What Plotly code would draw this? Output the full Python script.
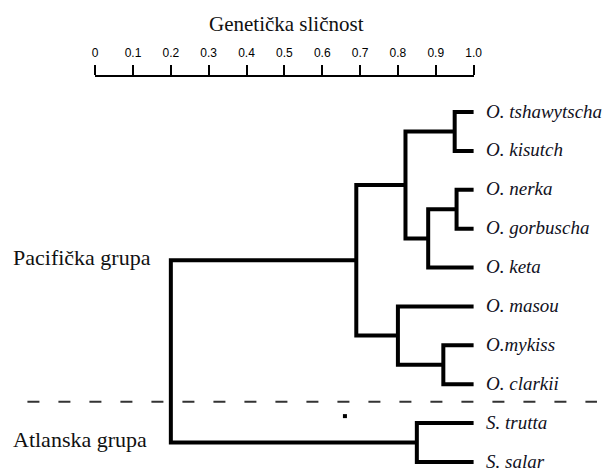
import plotly.graph_objects as go

# Taxa, top to bottom
taxa = ["O. tshawytscha", "O. kisutch", "O. nerka", "O. gorbuscha", "O. keta",
        "O. masou", "O.mykiss", "O. clarkii", "S. trutta", "S. salar"]

# Merge steps: (left node, right node, genetic similarity at the join).
# Leaves are nodes 0..9, every merge creates the next node id.
merge_left = [0, 2, 11, 10, 6, 5, 13, 8, 16]
merge_right = [1, 3, 4, 12, 7, 14, 15, 9, 17]
merge_similarity = [0.95, 0.955, 0.88, 0.82, 0.92, 0.80, 0.69, 0.85, 0.20]
leaf_similarity = 1.0

# Ruler
ruler_ticks = [0, 0.1, 0.2, 0.3, 0.4, 0.5, 0.6, 0.7, 0.8, 0.9, 1.0]
ruler_labels = ["0", "0.1", "0.2", "0.3", "0.4", "0.5", "0.6", "0.7", "0.8", "0.9", "1.0"]

# Groups: label and the node it names
group_names = ["Pacifička grupa", "Atlanska grupa"]
group_nodes = [16, 17]
group_border = 7.45          # separator between the two groups (leaf index units)
stray_dot = (0.66, 7.82)

W, H = 613, 468

# Node positions
node_x = {i: leaf_similarity for i in range(len(taxa))}
node_y = {i: float(i) for i in range(len(taxa))}
xs, ys = [], []
for k, (a, b, s) in enumerate(zip(merge_left, merge_right, merge_similarity)):
    nid = len(taxa) + k
    node_x[nid] = s
    node_y[nid] = (node_y[a] + node_y[b]) / 2
    xs += [node_x[a], s, s, node_x[b], None]
    ys += [node_y[a], node_y[a], node_y[b], node_y[b], None]

fig = go.Figure()

fig.add_trace(go.Scatter(x=xs, y=ys, mode="lines",
                         line=dict(color="black", width=4),
                         hoverinfo="skip", showlegend=False))

# group separator
fig.add_trace(go.Scatter(x=[-0.179, 1.326], y=[group_border, group_border],
                         mode="lines",
                         line=dict(color="#333333", width=2, dash="12px,19px"),
                         hoverinfo="skip", showlegend=False))

fig.add_trace(go.Scatter(x=[stray_dot[0]], y=[stray_dot[1]], mode="markers",
                         marker=dict(symbol="square", size=4, color="black"),
                         hoverinfo="skip", showlegend=False))

# invisible trace so the ruler subplot is drawn
fig.add_trace(go.Scatter(x=[0, 1], y=[0, 0], xaxis="x2", yaxis="y2",
                         mode="markers", marker=dict(opacity=0),
                         hoverinfo="skip", showlegend=False))

annotations = []
for i, name in enumerate(taxa):
    annotations.append(dict(x=leaf_similarity, y=i, xref="x", yref="y",
                            text=f"<i>{name}</i>", showarrow=False,
                            xanchor="left", yanchor="middle", xshift=10, yshift=1,
                            font=dict(family="Liberation Serif", size=19, color="#111122")))
for name, nid in zip(group_names, group_nodes):
    annotations.append(dict(x=8 / W, y=node_y[nid], xref="paper", yref="y",
                            text=name, showarrow=False, yshift=3,
                            xanchor="left", yanchor="middle",
                            font=dict(family="Liberation Serif", size=22, color="#111111")))
annotations.append(dict(x=289 / W, y=1 - 24 / H, xref="paper", yref="paper",
                        text="Genetička sličnost", showarrow=False,
                        xanchor="center", yanchor="middle",
                        font=dict(family="Liberation Serif", size=21, color="#111111")))

px_per_unit = 386.0
x0_px = 94.0
row_px = 38.89
row0_px = 112.0

ruler_y = 77.0

fig.update_layout(
    width=W, height=H,
    margin=dict(l=0, r=0, t=0, b=0),
    paper_bgcolor="white", plot_bgcolor="white",
    showlegend=False,
    annotations=annotations,
    xaxis=dict(range=[-x0_px / px_per_unit, (W - x0_px) / px_per_unit],
               domain=[0, 1], visible=False, fixedrange=True),
    yaxis=dict(range=[(H - row0_px) / row_px, -row0_px / row_px],
               domain=[0, 1], visible=False, fixedrange=True),
    xaxis2=dict(range=[0, 1], domain=[x0_px / W, (x0_px + px_per_unit) / W],
                anchor="y2", side="top",
                showline=True, linecolor="black", linewidth=1.5,
                ticks="outside", ticklen=10, tickwidth=1.5, tickcolor="black",
                tickvals=ruler_ticks, ticktext=ruler_labels,
                tickfont=dict(family="Liberation Sans", size=12, color="black"),
                ticklabelstandoff=3,
                showgrid=False, zeroline=False, fixedrange=True),
    yaxis2=dict(domain=[1 - (ruler_y + 5) / H, 1 - ruler_y / H], anchor="x2",
                visible=False, fixedrange=True),
)

fig.write_html("out.html")
